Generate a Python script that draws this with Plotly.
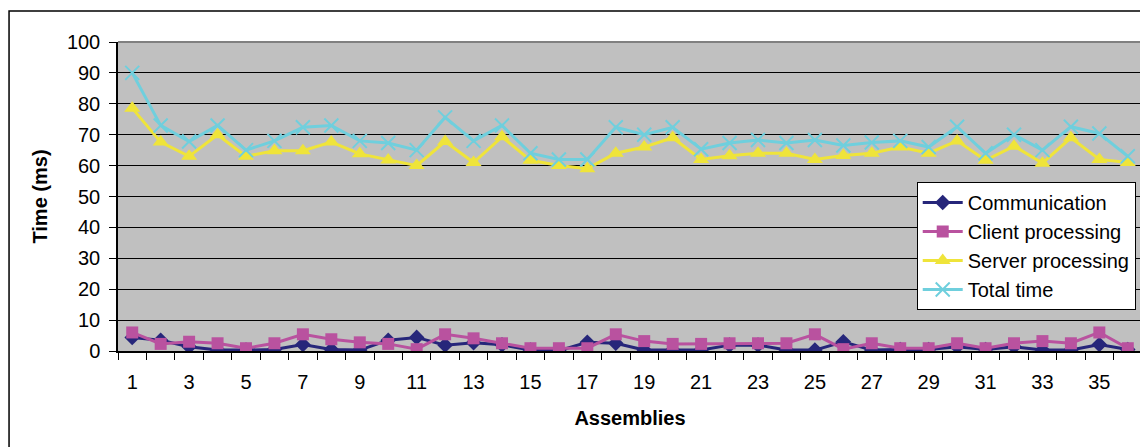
import plotly.graph_objects as go

assemblies = list(range(1, 37))
tick_labels = [str(i) for i in range(1, 37, 2)]

communication = [4.4, 3.5, 1.4, 0.3, 0.3, 0.5, 2.1, 0.5, 0.3, 3.5, 4.4, 1.9, 2.7, 2.0, 0.3, 0.1, 2.8, 2.5,
                 0.3, 0.3, 0.3, 1.9, 1.9, 0.3, 0.3, 3.0, 0.3, 0.5, 0.5, 1.4, 0.5, 1.4, 0.3, 0.3, 2.1, 0.5]
client = [6.0, 2.3, 3.0, 2.5, 0.9, 2.5, 5.4, 3.8, 2.8, 2.3, 0.6, 5.4, 4.1, 2.5, 0.9, 0.9, 0.9, 5.4,
          3.2, 2.3, 2.3, 2.5, 2.5, 2.5, 5.4, 0.6, 2.5, 0.9, 0.9, 2.5, 0.9, 2.5, 3.2, 2.5, 6.0, 0.9]
server = [78.6, 67.6, 63.0, 70.0, 63.0, 64.8, 64.8, 67.6, 63.8, 61.8, 60.0, 67.8, 61.0, 69.3, 61.7, 60.0, 59.0, 64.0,
          66.0, 69.0, 62.0, 63.2, 64.0, 64.0, 62.0, 63.3, 64.0, 66.0, 64.0, 68.0, 61.7, 66.3, 60.8, 69.0, 62.0, 61.0]
total = [90.0, 73.0, 67.8, 73.0, 65.0, 68.0, 72.4, 73.0, 68.0, 67.3, 65.0, 75.6, 68.0, 73.0, 64.0, 62.0, 62.0, 72.4,
         70.0, 72.4, 65.3, 67.3, 68.3, 67.3, 68.3, 66.5, 67.5, 68.0, 66.0, 72.6, 64.0, 70.0, 65.0, 72.6, 70.4, 63.0]

FONT = "Arial, Liberation Sans, sans-serif"

series = [
    ("Communication", communication, "#26267A", "diamond", 12),
    ("Client processing", client, "#B9529F", "square", 12),
    ("Server processing", server, "#EFE43A", "triangle-up", 14),
    ("Total time", total, "#6FCFDD", "x-thin", 14),
]

fig = go.Figure()
for name, vals, color, sym, size in series:
    marker = dict(symbol=sym, size=size, color=color)
    if sym == "x-thin":
        marker["line"] = dict(color=color, width=2)
    fig.add_trace(go.Scatter(
        x=assemblies, y=vals, name=name, mode="lines+markers",
        line=dict(color=color, width=3), marker=marker,
    ))

fig.update_layout(
    width=1140, height=439,
    margin=dict(l=110, r=6, t=34, b=96),
    paper_bgcolor="white", plot_bgcolor="#C0C0C0",
    font=dict(family=FONT, color="black", size=20),
    showlegend=True,
    legend=dict(x=0.78, y=0.547, xanchor="left", yanchor="top",
                bgcolor="white", bordercolor="black", borderwidth=1,
                font=dict(size=20, family=FONT), itemwidth=40,
                tracegroupgap=0),
    xaxis=dict(range=[0.5, 36.5], tickmode="array",
               tickvals=list(range(1, 37, 2)), ticktext=tick_labels,
               ticks="", showgrid=False, zeroline=False,
               showline=True, linecolor="black", linewidth=1.5,
               tickfont=dict(size=20), ticklabelstandoff=12,
               minor=dict(tick0=0.5, dtick=1, ticks="outside", ticklen=7,
                          tickcolor="black", tickwidth=1, showgrid=False),
               title=dict(text="<b>Assemblies</b>", font=dict(size=20), standoff=19)),
    yaxis=dict(range=[0, 100], tickmode="linear", tick0=0, dtick=10,
               ticks="outside", ticklen=7, tickcolor="black",
               showgrid=True, gridcolor="black", gridwidth=1,
               zeroline=False, showline=True, linecolor="black", linewidth=1.5,
               tickfont=dict(size=20), ticklabelstandoff=5,
               title=dict(text="<b>Time (ms)</b>", font=dict(size=20), standoff=14)),
    shapes=[
        dict(type="line", xref="paper", yref="paper", x0=0, x1=1, y0=1, y1=1,
             line=dict(color="#808080", width=2)),
        dict(type="line", xref="paper", yref="paper", x0=1, x1=1, y0=0, y1=1,
             line=dict(color="#808080", width=2)),
        dict(type="rect", xref="paper", yref="paper", x0=-0.1064, x1=1.2, y0=-0.6, y1=1.1,
             line=dict(color="black", width=1.5), layer="below"),
    ],
)

fig.write_html("out.html")
